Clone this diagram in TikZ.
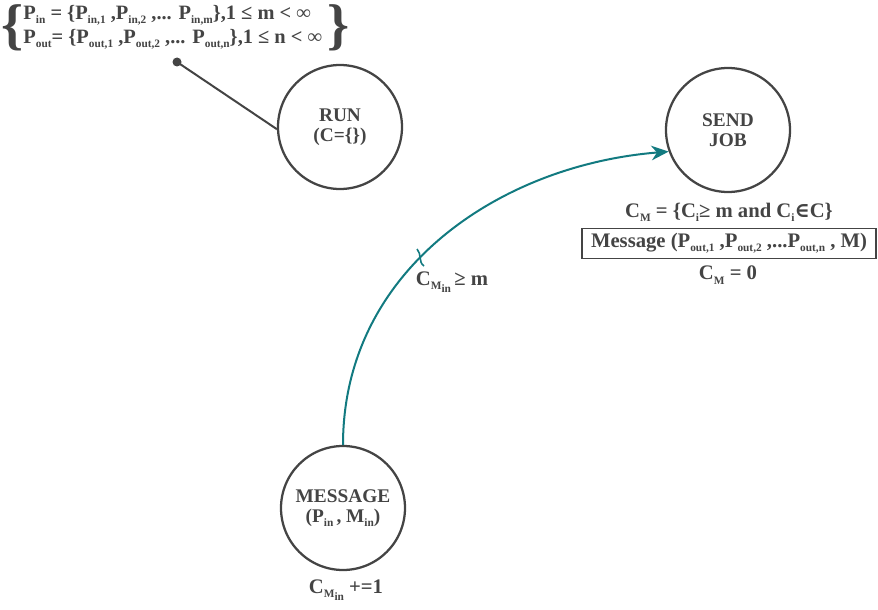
\documentclass[tikz,border=0pt]{standalone}
\usepackage{fontspec}
\setmainfont{Liberation Serif}
\newfontfamily\symfont{DejaVu Serif}
\usetikzlibrary{calc,arrows.meta}
\definecolor{darkgray}{RGB}{68,68,68}
\definecolor{tealarc}{RGB}{18,122,128}
\tikzset{every picture/.style={line width=0.75pt}}
\tikzset{
  state/.style={circle,draw=darkgray,line width=1.7pt,minimum size=93pt,inner sep=0pt,align=center,font=\fontsize{14.5}{15}\selectfont\bfseries,text=darkgray},
  lbl/.style={font=\fontsize{15.5}{16}\selectfont\bfseries,text=darkgray,inner sep=1pt},
  param/.style={font=\fontsize{15.3}{15}\selectfont\bfseries,text=darkgray,anchor=west,inner sep=0pt},
  bigbrace/.style={font=\fontsize{42}{42}\selectfont\bfseries,text=darkgray,inner sep=0pt},
}
\newcommand{\sbs}[1]{\raisebox{-0.45ex}{\fontsize{8.5}{8}\selectfont #1}}
\begin{document}
\begin{tikzpicture}[x=0.75pt,y=0.75pt,yscale=-1,xscale=1]
\useasboundingbox (0,0) rectangle (878,610);

%Shape: Circle
\node[state] (run) at (340,127) {RUN\\(C=\{\})};
%Shape: Circle
\node[state] (sendjob) at (728,130) {SEND\\JOB};
%Shape: Circle
\node[state] (message) at (343,508) {MESSAGE\\(P\sbs{in}\,, M\sbs{in})};

% Text Node
\node[bigbrace] (lbrace) at (13,28) {\{};
\node[param] (pinline) at (23,15) {P\sbs{in} = \{P\sbs{in,1} ,P\sbs{in,2} ,... P\sbs{in,m}\},1 ≤ m < ∞};
\node[param] (poutline) at (23,39) {P\sbs{out}= \{P\sbs{out,1} ,P\sbs{out,2} ,... P\sbs{out,n}\},1 ≤ n < ∞};
\node[bigbrace] (rbrace) at (339,28) {\}};
\coordinate (pin) at (177,62);
\fill[darkgray] (pin) circle (4.5);
%Straight Lines
\draw[darkgray,line width=1.5pt] (pin) -- (run.182);

%Curve Lines
\draw[tealarc,line width=1.5pt,-{Stealth[length=13pt,width=11pt]}] (message.north) .. controls (343,270) and (500,165) .. (sendjob.200);
% guard mark
\coordinate (guard) at (420,258);
\draw[tealarc,line width=1.2pt] ($(guard)+(-3,-9)$) .. controls ($(guard)+(2,-4)$) and ($(guard)+(-2,4)$) .. ($(guard)+(4,8)$);

% Text Node
\node[lbl] (guardlbl) at (452,282) {C\sbs{M\sbs{in}}\,≥ m};
% Text Node
\node[lbl] (cmset) at (729,212) {C\sbs{M} = \{C\sbs{i}≥ m and C\sbs{i}{\symfont ∈}C\}};
% Text Node
\node[lbl,draw=darkgray,line width=1.2pt,inner sep=2pt,minimum width=220.5pt,minimum height=22.5pt] (sendmsg) at (729,243.5) {Message (P\sbs{out,1} ,P\sbs{out,2} ,...P\sbs{out,n} , M)};
% Text Node
\node[lbl] (cmreset) at (728,275) {C\sbs{M} = 0};
% Text Node
\node[lbl] (cminc) at (346,590) {C\sbs{M\sbs{in}} +=1};

\end{tikzpicture}
\end{document}
